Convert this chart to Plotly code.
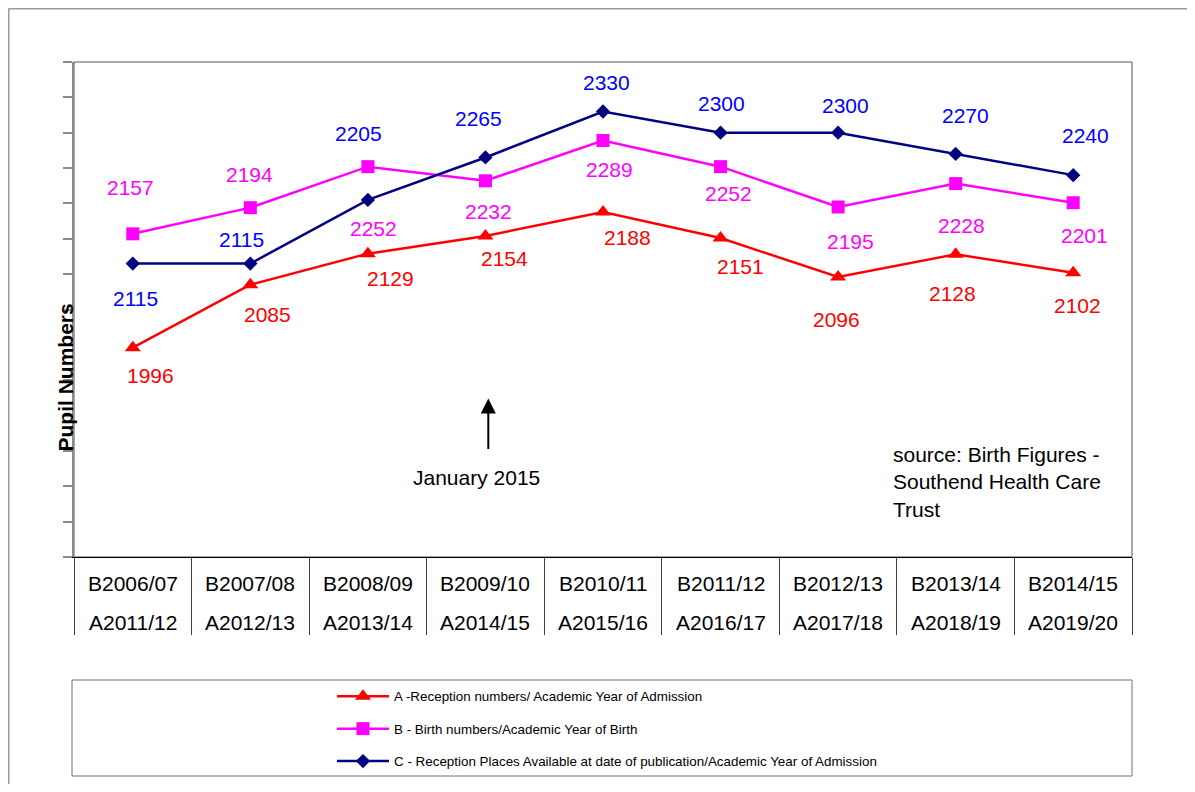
import plotly.graph_objects as go

# ---------------- data ----------------
birth_years = ["B2006/07", "B2007/08", "B2008/09", "B2009/10", "B2010/11",
               "B2011/12", "B2012/13", "B2013/14", "B2014/15"]
admission_years = ["A2011/12", "A2012/13", "A2013/14", "A2014/15", "A2015/16",
                   "A2016/17", "A2017/18", "A2018/19", "A2019/20"]
reception_numbers = [1996, 2085, 2129, 2154, 2188, 2151, 2096, 2128, 2102]
birth_numbers = [2157, 2194, 2252, 2232, 2289, 2252, 2195, 2228, 2201]
places_available = [2115, 2115, 2205, 2265, 2330, 2300, 2300, 2270, 2240]

series_names = [
    "A -Reception numbers/ Academic Year of Admission",
    "B - Birth numbers/Academic Year of Birth",
    "C - Reception Places Available at date of publication/Academic Year of Admission",
]

# label offsets in pixels (dx right, dy down) - styling only
off_a = [(18, 28), (17, 30), (23, 25), (19, 23), (24, 26), (20, 28), (-2, 43), (-3, 39), (4, 33)]
off_b = [(-2, -46), (-1, -33), (6, 62), (3, 31), (6, 29), (8, 27), (12, 35), (6, 42), (11, 33)]
off_c = [(3, 35), (-9, -24), (-9, -66), (-7, -39), (3, -29), (1, -29), (7, -27), (10, -38), (12, -40)]

FONT = "Arial, Liberation Sans, sans-serif"
SX = 8                      # page offset of the figure inside the browser window
W, H = 1179, 776
L, T = 66, 54
PW, PH = 1058, 495
R = W - L - PW
B = H - T - PH


def px(xs):
    return (xs - SX - L) / PW


def py(ys):
    return (H - B - (ys - SX)) / PH


x_idx = list(range(len(birth_years)))

fig = go.Figure()
fig.add_trace(go.Scatter(
    x=x_idx, y=reception_numbers, name=series_names[0], mode="lines+markers",
    line=dict(color="#FF0000", width=2.5),
    marker=dict(symbol="triangle-up", size=14, color="#FF0000"),
    legendgroup="a", hoverinfo="skip"))
fig.add_trace(go.Scatter(
    x=x_idx, y=birth_numbers, name=series_names[1], mode="lines+markers",
    line=dict(color="#FF00FF", width=2.5),
    marker=dict(symbol="square", size=13, color="#FF00FF"),
    legendgroup="b", hoverinfo="skip"))
fig.add_trace(go.Scatter(
    x=x_idx, y=places_available, name=series_names[2], mode="lines+markers",
    line=dict(color="#000080", width=2.5),
    marker=dict(symbol="diamond", size=11, color="#000080"),
    legendgroup="c", hoverinfo="skip"))

annotations = []
for vals, offs, col in [(reception_numbers, off_a, "#FF0000"),
                        (birth_numbers, off_b, "#FF00FF"),
                        (places_available, off_c, "#0000FF")]:
    for i, (v, (dx, dy)) in enumerate(zip(vals, offs)):
        annotations.append(dict(
            x=i, y=v, xref="x", yref="y", text=str(v), showarrow=False,
            xanchor="center", yanchor="middle",
            xshift=dx, yshift=-dy, font=dict(family=FONT, size=21, color=col)))

# category table labels
for i, (b, a) in enumerate(zip(birth_years, admission_years)):
    annotations.append(dict(x=i, y=0, xref="x", yref="paper", text=b, showarrow=False,
                            xanchor="center", yanchor="middle", yshift=-26,
                            font=dict(family=FONT, size=21, color="black")))
    annotations.append(dict(x=i, y=0, xref="x", yref="paper", text=a, showarrow=False,
                            xanchor="center", yanchor="middle", yshift=-65,
                            font=dict(family=FONT, size=21, color="black")))

# y axis title
annotations.append(dict(x=px(65), y=py(377.5), xref="paper", yref="paper",
                        text="<b>Pupil Numbers</b>", textangle=-90, showarrow=False,
                        xanchor="center", yanchor="middle",
                        font=dict(family=FONT, size=21, color="black")))
# arrow
annotations.append(dict(x=px(488.3), y=py(398.5), xref="paper", yref="paper",
                        text="", showarrow=True, ax=0, ay=52,
                        arrowhead=2, arrowsize=1.5, arrowwidth=2, arrowcolor="black"))
annotations.append(dict(x=px(476), y=py(477.5), xref="paper", yref="paper",
                        text="January 2015", showarrow=False,
                        xanchor="center", yanchor="middle",
                        font=dict(family=FONT, size=21, color="black")))
annotations.append(dict(x=px(890.5), y=py(481.5), xref="paper", yref="paper",
                        text="source: Birth Figures -<br>Southend Health Care<br>Trust",
                        showarrow=False, xanchor="left", yanchor="middle", align="left",
                        font=dict(family=FONT, size=21, color="black")))

shapes = [
    # plot border
    dict(type="rect", xref="paper", yref="paper", x0=0, y0=0, x1=1, y1=1,
         line=dict(color="#555555", width=1), layer="below"),
    # outer frame (top and left)
    dict(type="line", xref="paper", yref="paper", x0=px(8.5), x1=px(1300), y0=py(8.5), y1=py(8.5),
         line=dict(color="#9a9a9a", width=2)),
    dict(type="line", xref="paper", yref="paper", x0=px(8.5), x1=px(8.5), y0=py(8.5), y1=py(900),
         line=dict(color="#9a9a9a", width=2)),
    # legend box
    dict(type="rect", xref="paper", yref="paper", x0=px(72), x1=px(1132), y0=py(680), y1=py(776),
         line=dict(color="#707070", width=1)),
]

fig.update_layout(
    width=W, height=H,
    margin=dict(l=L, r=R, t=T, b=B, pad=0, autoexpand=False),
    paper_bgcolor="white", plot_bgcolor="white",
    font=dict(family=FONT, color="black"),
    annotations=annotations, shapes=shapes,
    showlegend=True,
    legend=dict(x=px(332), y=py(681), xanchor="left", yanchor="top",
                font=dict(family=FONT, size=13.4, color="black"),
                bgcolor="rgba(0,0,0,0)", borderwidth=0,
                traceorder="grouped", tracegroupgap=12, itemwidth=52),
    xaxis=dict(range=[-0.5, len(birth_years) - 0.5], tickmode="array",
               tickvals=[i - 0.5 for i in range(len(birth_years) + 1)], ticktext=[""] * (len(birth_years) + 1),
               ticks="outside", ticklen=77, tickwidth=1, tickcolor="#404040",
               showticklabels=False, showline=True, linecolor="black", linewidth=1,
               showgrid=False, zeroline=False, fixedrange=True),
    yaxis=dict(range=[1700, 2400], tick0=1700, dtick=50, ticks="outside", ticklen=9,
               tickwidth=2, tickcolor="#8a8a8a", showticklabels=False, showline=True,
               linecolor="#8a8a8a", linewidth=2, showgrid=False, zeroline=False,
               fixedrange=True),
)

fig.write_html("out.html")
